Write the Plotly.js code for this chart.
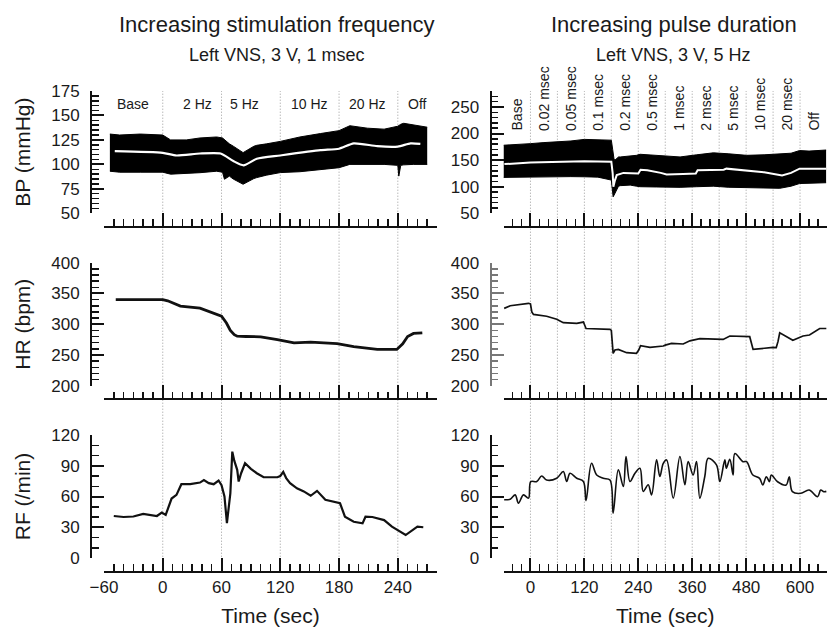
<!DOCTYPE html>
<html><head><meta charset="utf-8">
<script src="https://cdn.plot.ly/plotly-3.0.1.min.js"></script>
<style>html,body{margin:0;padding:0;background:#fff;} #chart{width:827px;height:627px;}</style>
</head><body><div id="chart"></div>
<script>
// ---------- LEFT: increasing stimulation frequency ----------
const leftBounds = [0, 60, 120, 180, 240];
const leftLabels = ['Base', '2 Hz', '5 Hz', '10 Hz', '20 Hz', 'Off'];
const leftLabelTimes = [-30, 35, 83, 150, 209, 260];

const bpLeftTime  = [-54,-44,-23,0,8,24,38,55,61,63,68,72,82,93,96,106,120,140,147,161,180,191,209,226,240,241,243,246,256,270];
const bpLeftUpper = [131,130,131,130,125,125,127,128,127,125,121,118.6,112,118.5,119.5,121,123.5,128,129,131.5,134.5,139.5,137,136,139,140,141,142,140.5,138];
const bpLeftLower = [93,92,92,92,90,90.5,91.5,93,92,84.8,88,85,79.7,85.5,86.5,89,91.6,92.5,93.2,94.5,96.6,100,100,100,99,88,99,99.5,100,100];
const bpLeftMeanTime = [-49,0,14,38,59,72,82.5,96,120,161,180,195,219,240,253,263];
const bpLeftMean     = [113.5,111.8,109.1,111.1,111.1,103.4,99,105.7,109.1,114.5,116,121.5,118.6,118.2,121.5,121];

const hrLeftTime = [-48,-20,0,5,18,38,55,60,65,69,73,76,85,100,117,134,151,165,178,195,219,239,245,250,256,265];
const hrLeft     = [340,340,340,338,329.5,326,316,313,302,290,283,280.5,280,279.5,275,269.5,271,269.5,268.5,263.5,259,259,268,280,285,286];

const rfLeftTime = [-50,-40,-30,-20,-6,-1,3,9,14,19,28,38,42,47,52,57,60,63,65.5,69,71,73,76,77.5,80,84,90,96,103,110,117,120,123,126,130,137,144,151,157.5,166,175,181,186,195,204,207,214,226,234,248,260,266];
const rfLeft     = [41,40,40.5,43,41,44.4,42,58,61.6,72,72,73.6,76,73,72,75.6,71,60,34,63,103.8,95,86,74.6,82.7,92.4,87,82.7,78.8,79,78.8,80,84,78,73,68,65,60.7,65.5,56.8,54.5,53.4,40.3,35.4,33.8,40.3,40,37,30.6,22.4,30.6,30];

// ---------- RIGHT: increasing pulse duration ----------
const rightBounds = [0,60,120,180,240,300,360,420,480,540,600];
const rightLabels = ['Base','0.02 msec','0.05 msec','0.1 msec','0.2 msec','0.5 msec','1 msec','2 msec','5 msec','10 msec','20 msec','Off'];
const rightLabelTimes = [-30,30,90,150,210,270,330,390,450,510,570,630];

const bpRightTime  = [-60,-30,0,30,59,90,120,150,180,183,184,186,188,192,196,200,222,236,244,280,333,370,407,440,481,520,555,580,599,620,658];
const bpRightUpper = [178,179,181,183,184,186,189,188,187.5,170,160,152,150,153,156,156,157,159,161,159,156,160,163.7,162,159,160,161,163,168,167,169];
const bpRightLower = [117.5,118,118.7,119,119,119,118.7,118,112.5,95,81,84,87.5,95,101,102,103,101,100,99.5,98.8,100,101,99,98,97.5,97,101,106,106.5,107.5];
const bpRightMeanTime = [-58,0,120,180,183,184.5,188,192,207,240,245,260,290,303,340,368,372,430,436,480,520,560,580,599,658];
const bpRightMean     = [142.5,145.6,148,146.8,125,100,112,121.8,126,125,132,131,126,123,124,125,131,132,134,130,127,121,126,134,134];

const hrRightTime = [-58.5,-45,-4.4,0,3,6.7,36,58.5,73,103,117.8,120,123.7,177,180,184,188,195.5,214,236,241,245,266,295.6,300,314,340,354.8,377,428.9,443.7,488,491,495.5,540,547,551,554.8,584,606.6,621,643.7,658.5];
const hrRight     = [325.7,330,334,333,320,316,313,308,302.4,301.4,303.5,300,293,291.6,290,252.6,258,259,253.7,252.6,258,265,262.3,264.5,266,268.8,267.8,273,276.4,275.3,280.8,279.7,270,259,262.3,262,272,286,274,280.8,282.4,293,293];

const rfRightTime = [-58.5,-45,-34,-26.7,-15.6,-4.4,0.7,14,25,36,58.5,73,80.7,88,103,117.8,123.7,136,147.4,162,177,184,195.5,206.7,212.6,221.5,232.6,243.7,251,262,269.6,280.7,288,295.6,303,317.8,332.6,343.7,351,362,369.6,377,388,395.6,414,421.5,432.6,436,443.7,451,455,473,481,495,510,517,525,532,536,550,569,576,583,602,620,639,646,653,658.5];
const rfRight     = [56.8,57.4,61.6,53.5,61.6,58.4,74.6,74.6,80,76,77.8,84.3,74.6,82.7,77.8,74.6,56,92.4,81,77.8,76,43.8,86,69.7,99,74.6,82.7,87.6,64.9,71.4,61.6,95.7,79.5,92.4,95.7,58.4,99,71.4,94,81,94,58.4,79.5,97.3,90.8,74.6,95.7,87.6,96.3,81,102,94,94,81,77.7,71.2,79.3,74.4,81,74.4,71.2,79.3,64.7,63.1,66.3,59.8,66.3,64.7,65];

// ---------- geometry helpers ----------
const W = 827, H = 627;
const px = v => v / W;
const py = v => 1 - v / H;
const FONT = 'Liberation Sans, Arial, Helvetica, sans-serif';
const tickFont = {family: FONT, size: 17, color: '#1a1a1a'};

function xAxis(dom, pos, range, dtick, mdtick, labels, color) {
  color = color || '#111';
  return {
    domain: dom, anchor: 'free', position: pos, range: range,
    showline: true, linecolor: color, linewidth: 2,
    ticks: 'inside', ticklen: 13, tickwidth: 2, tickcolor: color,
    tick0: 0, dtick: dtick, showticklabels: labels, tickfont: tickFont,
    minor: {ticks: 'inside', tick0: 0, dtick: mdtick, ticklen: 6.5, tickwidth: 1.5, tickcolor: color, showgrid: false},
    showgrid: false, zeroline: false, fixedrange: true
  };
}
function yAxis(dom, pos, range, dtick, mdtick, title, color) {
  color = color || '#111';
  const a = {
    domain: dom, anchor: 'free', position: pos, range: range,
    showline: true, linecolor: color, linewidth: 2,
    ticks: 'inside', ticklen: 12, tickwidth: 2, tickcolor: color,
    tick0: 0, dtick: dtick, showticklabels: true, tickfont: tickFont,
    ticklabelstandoff: 7,
    minor: {ticks: 'inside', tick0: 0, dtick: mdtick, ticklen: 6.5, tickwidth: 1.5, tickcolor: color, showgrid: false},
    showgrid: false, zeroline: false, fixedrange: true
  };
  if (title) a.title = {text: title, font: {family: FONT, size: 21, color: '#1a1a1a'}, standoff: 14};
  return a;
}

const LX = [px(104), px(437)], RX = [px(503.5), px(827)];
const BPY = [py(213.3), py(91)], HRY = [py(385.7), py(262.7)], RFY = [py(558), py(435)];
const posBP = py(226.7), posHR = py(399), posRF = py(571.7);
const LYpos = px(91), RYpos = px(490.5);

const traces = [
  {x: bpLeftTime, y: bpLeftUpper, xaxis: 'x', yaxis: 'y', mode: 'lines', line: {color: '#000', width: 1}, hoverinfo: 'skip'},
  {x: bpLeftTime, y: bpLeftLower, xaxis: 'x', yaxis: 'y', mode: 'lines', line: {color: '#000', width: 1}, fill: 'tonexty', fillcolor: '#000', hoverinfo: 'skip'},
  {x: bpLeftMeanTime, y: bpLeftMean, xaxis: 'x', yaxis: 'y', mode: 'lines', line: {color: '#fff', width: 2.2, shape: 'spline', smoothing: 0.6}},
  {x: hrLeftTime, y: hrLeft, xaxis: 'x2', yaxis: 'y2', mode: 'lines', line: {color: '#111', width: 2.8}},
  {x: rfLeftTime, y: rfLeft, xaxis: 'x3', yaxis: 'y3', mode: 'lines', line: {color: '#111', width: 2.2}},
  {x: bpRightTime, y: bpRightUpper, xaxis: 'x4', yaxis: 'y4', mode: 'lines', line: {color: '#000', width: 1}, hoverinfo: 'skip'},
  {x: bpRightTime, y: bpRightLower, xaxis: 'x4', yaxis: 'y4', mode: 'lines', line: {color: '#000', width: 1}, fill: 'tonexty', fillcolor: '#000', hoverinfo: 'skip'},
  {x: bpRightMeanTime, y: bpRightMean, xaxis: 'x4', yaxis: 'y4', mode: 'lines', line: {color: '#fff', width: 2}},
  {x: hrRightTime, y: hrRight, xaxis: 'x5', yaxis: 'y5', mode: 'lines', line: {color: '#111', width: 1.7}},
  {x: rfRightTime, y: rfRight, xaxis: 'x6', yaxis: 'y6', mode: 'lines', line: {color: '#111', width: 1.6, shape: 'spline', smoothing: 1}}
];

const shapes = [];
leftBounds.forEach(t => shapes.push({type: 'line', xref: 'x3', yref: 'paper', x0: t, x1: t, y0: posRF, y1: py(91),
  line: {color: '#9a9a9a', width: 1, dash: '1px,2px'}, layer: 'below'}));
rightBounds.forEach(t => shapes.push({type: 'line', xref: 'x6', yref: 'paper', x0: t, x1: t, y0: posRF, y1: py(91),
  line: {color: '#9a9a9a', width: 1, dash: '1px,2px'}, layer: 'below'}));

const annotations = [];
leftLabels.forEach((s, i) => annotations.push({text: s, xref: 'x', yref: 'paper', x: leftLabelTimes[i], y: py(103.5),
  xanchor: 'center', yanchor: 'middle', showarrow: false, font: {family: FONT, size: 14, color: '#1a1a1a'}}));
rightLabels.forEach((s, i) => annotations.push({text: s, xref: 'x4', yref: 'paper', x: rightLabelTimes[i], y: py(132.5),
  xanchor: 'center', yanchor: 'bottom', textangle: -90, showarrow: false, font: {family: FONT, size: 14, color: '#1a1a1a'}}));
annotations.push(
  {text: 'Increasing stimulation frequency', xref: 'paper', yref: 'paper', x: px(277), y: py(24.5), xanchor: 'center', yanchor: 'middle', showarrow: false, font: {family: FONT, size: 22, color: '#1a1a1a'}},
  {text: 'Left VNS, 3 V, 1 msec', xref: 'paper', yref: 'paper', x: px(276.5), y: py(54.5), xanchor: 'center', yanchor: 'middle', showarrow: false, font: {family: FONT, size: 18, color: '#1a1a1a'}},
  {text: 'Increasing pulse duration', xref: 'paper', yref: 'paper', x: px(674), y: py(24.5), xanchor: 'center', yanchor: 'middle', showarrow: false, font: {family: FONT, size: 22, color: '#1a1a1a'}},
  {text: 'Left VNS, 3 V, 5 Hz', xref: 'paper', yref: 'paper', x: px(673), y: py(54.5), xanchor: 'center', yanchor: 'middle', showarrow: false, font: {family: FONT, size: 18, color: '#1a1a1a'}}
);

const xTitle = {text: 'Time (sec)', font: {family: FONT, size: 21, color: '#1a1a1a'}, standoff: 13};

const xa3 = xAxis(LX, posRF, [-60, 280], 60, 10, true); xa3.title = xTitle;
const xa6 = xAxis(RX, posRF, [-60, 660], 120, 20, true); xa6.title = xTitle;

const layout = {
  width: W, height: H, margin: {l: 0, r: 0, t: 0, b: 0, autoexpand: false},
  paper_bgcolor: '#fff', plot_bgcolor: 'rgba(0,0,0,0)', showlegend: false,
  font: {family: FONT, color: '#1a1a1a'},
  xaxis:  xAxis(LX, posBP, [-60, 280], 60, 10, false),
  xaxis2: xAxis(LX, posHR, [-60, 280], 60, 10, false),
  xaxis3: xa3,
  xaxis4: xAxis(RX, posBP, [-60, 660], 120, 20, false),
  xaxis5: xAxis(RX, posHR, [-60, 660], 120, 20, false),
  xaxis6: xa6,
  yaxis:  yAxis(BPY, LYpos, [50, 175], 25, 5, 'BP (mmHg)'),
  yaxis2: yAxis(HRY, LYpos, [200, 400], 50, 10, 'HR (bpm)'),
  yaxis3: yAxis(RFY, LYpos, [0, 120], 30, 10, 'RF (/min)'),
  yaxis4: yAxis(BPY, RYpos, [50, 280], 50, 10, null),
  yaxis5: yAxis(HRY, RYpos, [200, 400], 50, 10, null, '#777'),
  yaxis6: yAxis(RFY, RYpos, [0, 120], 30, 10, null),
  shapes: shapes, annotations: annotations
};

Plotly.newPlot('chart', traces, layout, {displayModeBar: false, staticPlot: true});
</script></body></html>
